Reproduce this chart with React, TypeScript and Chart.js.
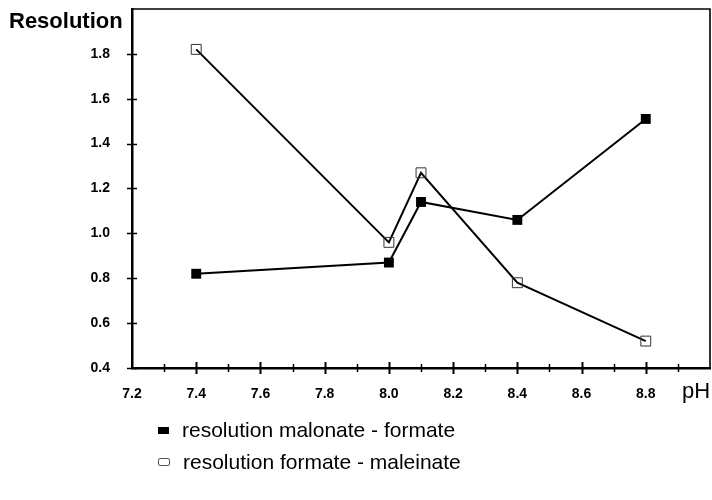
import React, { useEffect, useRef } from "react";
import { Chart, registerables } from "chart.js";

Chart.register(...registerables);

// ---- data ----
const phValues = [7.4, 8.0, 8.1, 8.4, 8.8];
const malonateFormate = [0.82, 0.87, 1.14, 1.06, 1.51];
const formateMaleinate = [1.82, 0.96, 1.27, 0.78, 0.52];
const seriesLabels = ["resolution malonate - formate", "resolution formate - maleinate"];
const xAxisTitle = "pH";
const yAxisTitle = "Resolution";
const X_MIN = 7.2;
const X_MAX = 9.0;
const X_STEP = 0.2;
const X_MINOR = 0.1;
const Y_MIN = 0.4;
const Y_MAX = 2.0;
const Y_STEP = 0.2;

const FONT = "'Liberation Sans', Arial, Helvetica, sans-serif";

const frameTicks = {
  id: "frameTicks",
  afterDraw(chart: any) {
    const { ctx, chartArea: a, scales } = chart;
    const x = scales.x;
    const y = scales.y;
    ctx.save();
    ctx.strokeStyle = "#000";
    ctx.lineWidth = 1.6;
    ctx.beginPath();
    ctx.moveTo(a.left, a.top);
    ctx.lineTo(a.right, a.top);
    ctx.lineTo(a.right, a.bottom);
    ctx.stroke();
    // x ticks (major + minor)
    const nx = Math.round((X_MAX - X_MIN) / X_MINOR);
    for (let i = 1; i < nx; i++) {
      const v = X_MIN + i * X_MINOR;
      const px = Math.round(x.getPixelForValue(v)) + 0.5;
      const len = i % 2 === 0 ? 6 : 4;
      ctx.lineWidth = i % 2 === 0 ? 2 : 1.5;
      ctx.beginPath();
      ctx.moveTo(px, a.bottom - len);
      ctx.lineTo(px, a.bottom + len);
      ctx.stroke();
    }
    // y ticks
    const ny = Math.round((Y_MAX - Y_MIN) / Y_STEP);
    for (let i = 0; i < ny; i++) {
      const v = Y_MIN + i * Y_STEP;
      const py = Math.round(y.getPixelForValue(v)) + 0.5;
      ctx.lineWidth = 1.5;
      ctx.beginPath();
      ctx.moveTo(a.left - 5, py);
      ctx.lineTo(a.left + 5, py);
      ctx.stroke();
    }
    ctx.restore();
  },
};

export default function App() {
  const ref = useRef<HTMLCanvasElement>(null);

  useEffect(() => {
    if (!ref.current) return;
    const chart = new Chart(ref.current, {
      type: "line",
      data: {
        datasets: [
          {
            label: seriesLabels[0],
            data: phValues.map((p, i) => ({ x: p, y: malonateFormate[i] })),
            borderColor: "#000",
            borderWidth: 2,
            backgroundColor: "#000",
            pointStyle: "rect",
            pointRadius: 7,
            pointBorderWidth: 0,
            pointBackgroundColor: "#000",
            tension: 0,
          },
          {
            label: seriesLabels[1],
            data: phValues.map((p, i) => ({ x: p, y: formateMaleinate[i] })),
            borderColor: "#000",
            borderWidth: 2,
            backgroundColor: "rgba(255,255,255,0)",
            pointStyle: "rect",
            pointRadius: 7,
            pointBorderWidth: 1,
            pointBorderColor: "#333",
            pointBackgroundColor: "rgba(255,255,255,0)",
            tension: 0,
          },
        ],
      },
      options: {
        responsive: false,
        animation: false,
        layout: { autoPadding: false, padding: { top: 9, right: 2, left: 0, bottom: 0 } },
        plugins: {
          legend: { display: false },
          tooltip: { enabled: false },
        },
        scales: {
          x: {
            type: "linear",
            min: X_MIN,
            max: X_MAX,
            afterFit: (s: any) => {
              s.height = 132;
              s.paddingLeft = 0;
              s.paddingRight = 0;
            },
            ticks: {
              stepSize: X_STEP,
              padding: 18,
              color: "#000",
              font: { family: FONT, size: 14, weight: "bold" },
              maxRotation: 0,
              autoSkip: false,
              callback: (v: any) => {
                const n = Number(v);
                if (Math.abs(n - X_MAX) < 1e-6) return "";
                return n.toFixed(1);
              },
            },
            grid: { display: false, drawTicks: false },
            border: { display: true, color: "#000", width: 2.5 },
          },
          y: {
            type: "linear",
            min: Y_MIN,
            max: Y_MAX,
            afterFit: (s: any) => {
              s.width = 132;
              s.paddingTop = 0;
              s.paddingBottom = 0;
            },
            ticks: {
              stepSize: Y_STEP,
              padding: 22,
              color: "#000",
              font: { family: FONT, size: 14, weight: "bold" },
              callback: (v: any) => {
                const n = Number(v);
                if (Math.abs(n - Y_MAX) < 1e-6) return "";
                return n.toFixed(1);
              },
            },
            grid: { display: false, drawTicks: false },
            border: { display: true, color: "#000", width: 2.5 },
          },
        },
      },
      plugins: [frameTicks],
    });
    return () => chart.destroy();
  }, []);

  const legendRow = (top: number, filled: boolean, text: string) => (
    <div
      style={{
        position: "absolute",
        left: 158,
        top,
        height: 24,
        display: "flex",
        alignItems: "center",
        fontFamily: FONT,
        fontSize: 21,
        color: "#000",
        whiteSpace: "nowrap",
      }}
    >
      <span
        style={{
          display: "inline-block",
          width: filled ? 11 : 10,
          height: filled ? 7 : 6,
          background: filled ? "#000" : "#fff",
          border: filled ? "none" : "1px solid #555",
          borderRadius: filled ? 0 : 2,
          marginRight: 13,
        }}
      />
      <span>{text}</span>
    </div>
  );

  return (
    <div style={{ position: "absolute", left: 0, top: 0, width: 712, height: 500, background: "#fff" }}>
      <canvas ref={ref} width={712} height={500} style={{ position: "absolute", left: 0, top: 0 }} />
      <div
        style={{
          position: "absolute",
          left: 9,
          top: 8,
          fontFamily: FONT,
          fontWeight: "bold",
          fontSize: 22,
          lineHeight: "26px",
          color: "#000",
        }}
      >
        {yAxisTitle}
      </div>
      <div
        style={{
          position: "absolute",
          left: 682,
          top: 378,
          fontFamily: FONT,
          fontSize: 22,
          lineHeight: "26px",
          color: "#000",
        }}
      >
        {xAxisTitle}
      </div>
      {legendRow(418, true, seriesLabels[0])}
      {legendRow(450, false, seriesLabels[1])}
    </div>
  );
}
